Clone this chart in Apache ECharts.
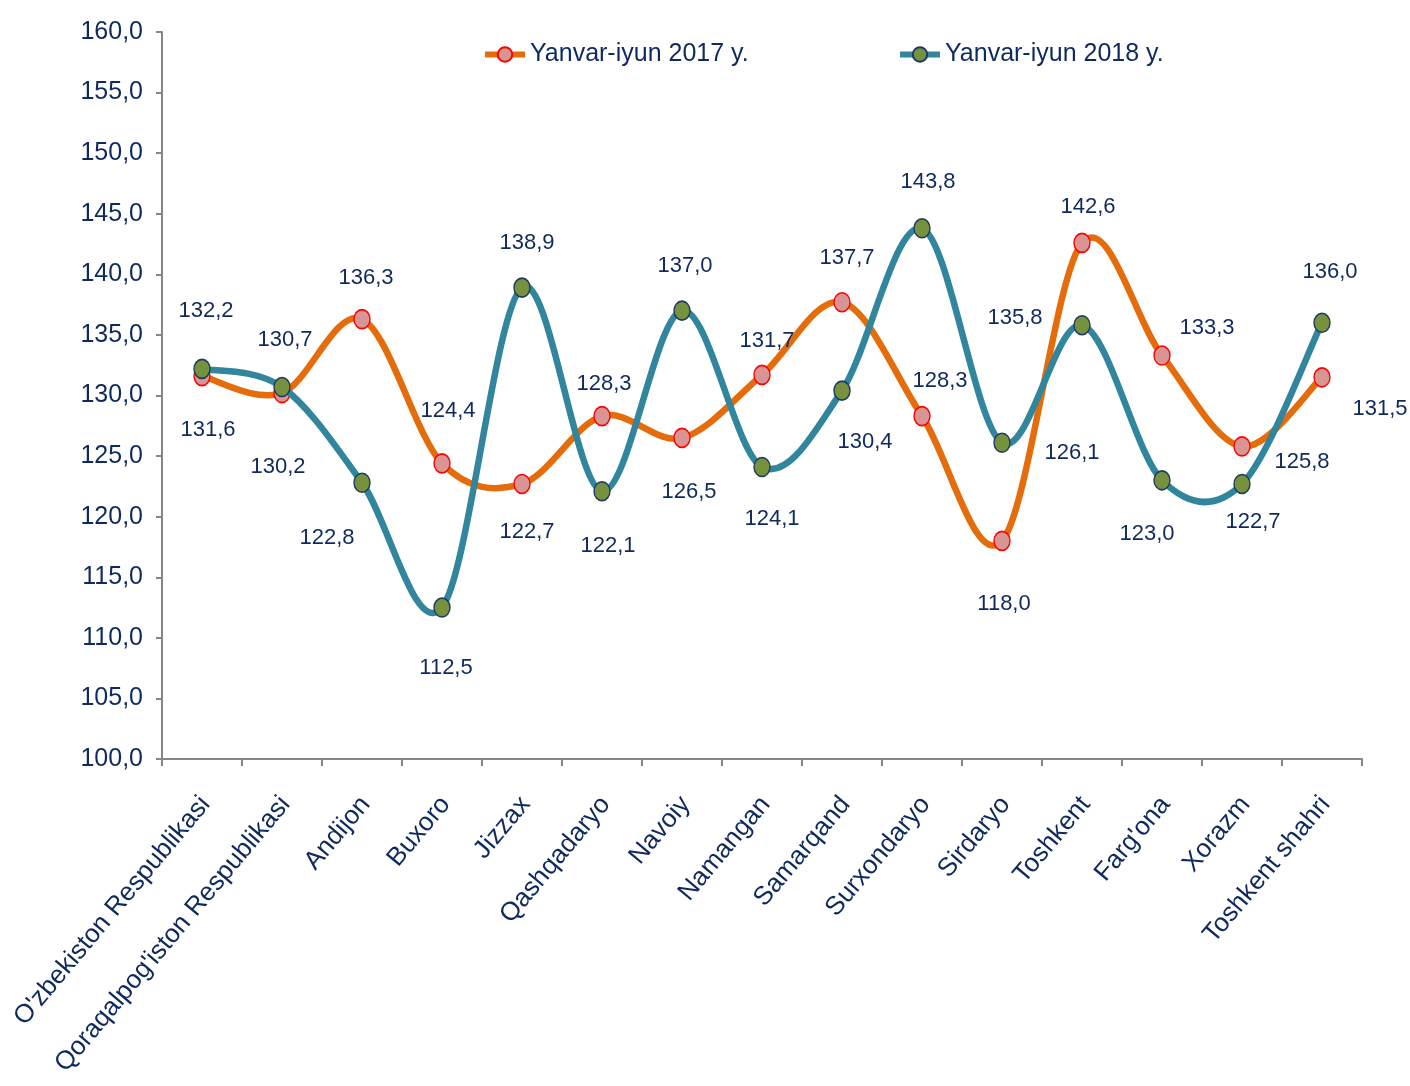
<!DOCTYPE html>
<html><head><meta charset="utf-8">
<script src="https://cdn.jsdelivr.net/npm/echarts@6/dist/echarts.min.js"></script>
<style>html,body{margin:0;padding:0;background:#fff}#c{width:1410px;height:1086px}</style>
</head><body><div id="c"></div>
<script>
const categories = ["O'zbekiston Respublikasi","Qoraqalpog'iston Respublikasi","Andijon","Buxoro","Jizzax","Qashqadaryo","Navoiy","Namangan","Samarqand","Surxondaryo","Sirdaryo","Toshkent","Farg'ona","Xorazm","Toshkent shahri"];
const seriesNames = ["Yanvar-iyun 2017 y.","Yanvar-iyun 2018 y."];
const values2017 = [131.6,130.2,136.3,124.4,122.7,128.3,126.5,131.7,137.7,128.3,118.0,142.6,133.3,125.8,131.5];
const values2018 = [132.2,130.7,122.8,112.5,138.9,122.1,137.0,124.1,130.4,143.8,126.1,135.8,123.0,122.7,136.0];
const yTicks = {min:100, max:160, interval:5};

// label offsets (style only)
const off2017 = [[6,54],[-4,74],[4,-41],[6,-52],[5,48],[2,-32],[7,54],[5,-34],[5,-44],[18,-35],[2,63],[6,-36],[45,-28],[60,16],[58,32]];
const off2018 = [[4,-58],[3,-47],[-35,55],[4,60],[5,-45],[6,55],[3,-45],[10,52],[23,51],[6,-46],[70,10],[-67,-7],[-15,54],[11,38],[8,-51]];

const FONT = '"Liberation Sans",Arial,sans-serif';
const TXT = '#0E2A5E';
const C17 = '#E46C0A', C18 = '#31859C';

function mk(vals, offs){
  return vals.map((v,i)=>({value:v, label:{offset:offs[i]}}));
}
const fmt = v => v.toFixed(1).replace('.',',');

// Excel-like smoothed curve (Catmull-Rom Bezier) through the points, via the chart's own scales
function curveSeries(vals, color, z){
  return {
    type:'custom', coordinateSystem:'cartesian2d', z:z, silent:true, clip:false,
    data:[[0, vals[0]]],
    renderItem:(params, api)=>{
      const p = vals.map((v,i)=>api.coord([i, v]));
      const n = p.length;
      let d = 'M' + p[0][0] + ' ' + p[0][1];
      for(let i=0;i<n-1;i++){
        const p0 = p[Math.max(i-1,0)], p1 = p[i], p2 = p[i+1], p3 = p[Math.min(i+2,n-1)];
        const c1 = [p1[0] + (p2[0]-p0[0])/6, p1[1] + (p2[1]-p0[1])/6];
        const c2 = [p2[0] - (p3[0]-p1[0])/6, p2[1] - (p3[1]-p1[1])/6];
        d += ' C' + c1[0] + ' ' + c1[1] + ' ' + c2[0] + ' ' + c2[1] + ' ' + p2[0] + ' ' + p2[1];
      }
      return {type:'path', shape:{pathData:d},
        style:{fill:'none', stroke:color, lineWidth:6.5, lineCap:'round', lineJoin:'round'}};
    }
  };
}

const labelCommon = {show:true, position:'inside', fontFamily:FONT, fontSize:22, color:TXT,
  formatter:p=>fmt(p.value)};

const legendCommon = {top:42, padding:0, itemWidth:40, itemHeight:18, itemGap:5,
  textStyle:{fontFamily:FONT, fontSize:25, color:TXT}};

const chart = echarts.init(document.getElementById('c'), null, {renderer:'canvas'});
chart.setOption({
  animation:false,
  backgroundColor:'#fff',
  grid:{left:162, right:48, top:32, bottom:327, containLabel:false, outerBoundsMode:'none'},
  legend:[
    Object.assign({left:482, data:[{name:seriesNames[0], lineStyle:{color:C17, width:6, opacity:1}}]}, legendCommon),
    Object.assign({left:897, data:[{name:seriesNames[1], lineStyle:{color:C18, width:6, opacity:1}}]}, legendCommon)
  ],
  xAxis:{
    type:'category', data:categories, boundaryGap:true,
    axisLine:{lineStyle:{color:'#868686', width:2}},
    axisTick:{show:true, length:7, lineStyle:{color:'#868686', width:2}},
    axisLabel:{rotate:50, interval:0, fontFamily:FONT, fontSize:26, color:TXT, margin:25,
      align:'right', verticalAlign:'top', padding:[0,10,0,0]}
  },
  yAxis:{
    type:'value', min:yTicks.min, max:yTicks.max, interval:yTicks.interval,
    splitLine:{show:false},
    axisLine:{show:true, lineStyle:{color:'#868686', width:2}},
    axisTick:{show:true, length:6, lineStyle:{color:'#868686', width:2}},
    axisLabel:{fontFamily:FONT, fontSize:25, color:TXT, margin:19, formatter:fmt}
  },
  series:[
    curveSeries(values2017, C17, 1),
    {name:seriesNames[0], type:'line', data:mk(values2017, off2017),
     lineStyle:{color:C17, width:6, opacity:0}, itemStyle:{color:'#D99594', borderColor:'#FF0000', borderWidth:1.5},
     symbol:'circle', symbolSize:[16,19], z:2, label:labelCommon},
    curveSeries(values2018, C18, 3),
    {name:seriesNames[1], type:'line', data:mk(values2018, off2018),
     lineStyle:{color:C18, width:6, opacity:0}, itemStyle:{color:'#76923C', borderColor:'#1F3864', borderWidth:1.5},
     symbol:'circle', symbolSize:[16,19], z:4, label:labelCommon}
  ]
});
</script></body></html>
